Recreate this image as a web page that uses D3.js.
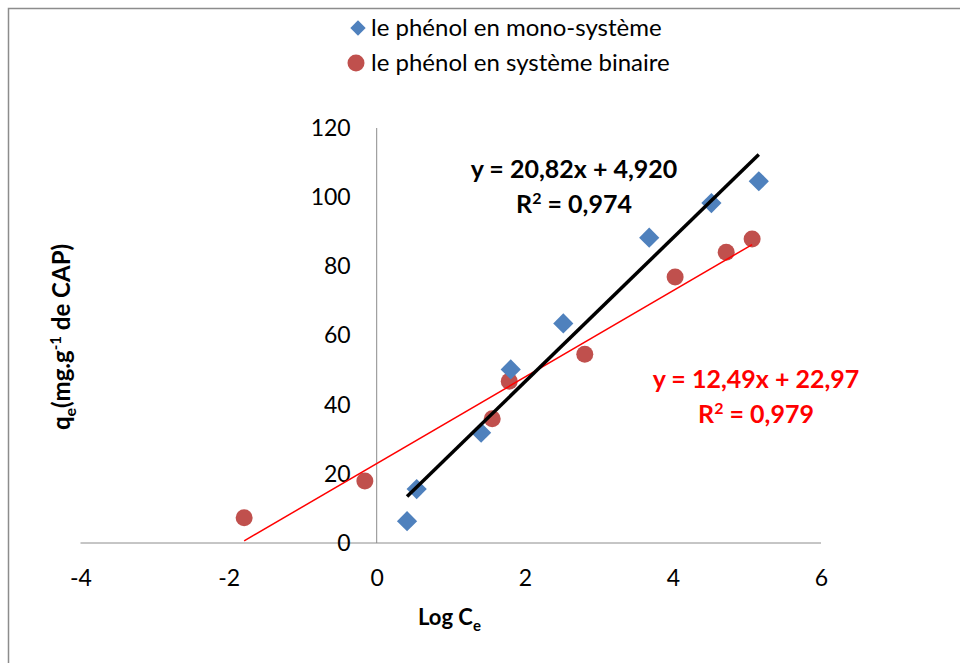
<!DOCTYPE html>
<html>
<head>
<meta charset="utf-8">
<script src="https://cdn.jsdelivr.net/npm/d3@7"></script>
<style>
  body { margin: 0; background: #fff; }
  svg { font-family: Lato, "Open Sans", sans-serif; }
  .axis path, .axis line { stroke: #8c8c8c; }
  .axis text { font-size: 23px; fill: #000; }
</style>
</head>
<body>
<svg width="960" height="663"></svg>
<script>
// mono-système (bleu)
var monoX = [0.41, 0.54, 1.41, 1.81, 2.52, 3.68, 4.52, 5.16];
var monoY = [6.3, 15.6, 31.9, 50.2, 63.5, 88.3, 98.3, 104.6];
// système binaire (rouge)
var binX = [-1.79, -0.16, 1.56, 1.79, 2.81, 4.03, 4.72, 5.07];
var binY = [7.3, 17.9, 35.9, 46.8, 54.6, 76.9, 84.1, 87.9];

var xTicks = [-4, -2, 0, 2, 4, 6];
var yTicks = [0, 20, 40, 60, 80, 100, 120];

var monoFit = {slope: 20.82, intercept: 4.920, eq: "y = 20,82x + 4,920", r2: "0,974"};
var binFit = {slope: 12.49, intercept: 22.97, eq: "y = 12,49x + 22,97", r2: "0,979"};

var svg = d3.select("svg");

// cadre du graphique
svg.append("rect")
    .attr("x", 8.5).attr("y", 8.5)
    .attr("width", 1000).attr("height", 1000)
    .attr("fill", "none")
    .attr("stroke", "#8c8c8c")
    .attr("stroke-width", 1.5);

var x = d3.scaleLinear().domain([-4, 6]).range([80.5, 821]);
var y = d3.scaleLinear().domain([0, 120]).range([543, 128]);

var xAxis = d3.axisBottom(x).tickValues(xTicks).tickSize(0).tickPadding(27)
    .tickFormat(function(d) { return d; });
var yAxis = d3.axisLeft(y).tickValues(yTicks).tickSize(0).tickPadding(26);

svg.append("g")
    .attr("class", "axis axis--x")
    .attr("transform", "translate(0," + y(0) + ")")
    .call(xAxis)
    .attr("font-family", null)
    .call(function(g) { g.select(".domain").attr("d", "M" + x(-4) + ",0H" + x(6)); });

svg.append("g")
    .attr("class", "axis axis--y")
    .attr("transform", "translate(" + x(0) + ",0)")
    .call(yAxis)
    .attr("font-family", null)
    .call(function(g) { g.select(".domain").attr("d", "M0," + y(120) + "V" + y(0)); });

// lignes de tendance
function fitLine(xs, fit, color, w) {
  var ext = d3.extent(xs);
  svg.append("line")
      .attr("x1", x(ext[0])).attr("y1", y(fit.slope * ext[0] + fit.intercept))
      .attr("x2", x(ext[1])).attr("y2", y(fit.slope * ext[1] + fit.intercept))
      .attr("stroke", color)
      .attr("stroke-width", w);
}

var diamond = d3.symbol().type(d3.symbolDiamond2).size(260);

svg.append("g").selectAll("circle")
    .data(d3.range(binX.length))
    .enter().append("circle")
    .attr("cx", function(i) { return x(binX[i]); })
    .attr("cy", function(i) { return y(binY[i]); })
    .attr("r", 8.5)
    .attr("fill", "#c0504d");

svg.append("g").selectAll("path")
    .data(d3.range(monoX.length))
    .enter().append("path")
    .attr("d", diamond)
    .attr("transform", function(i) { return "translate(" + x(monoX[i]) + "," + y(monoY[i]) + ")"; })
    .attr("fill", "#4f81bd");

fitLine(binX, binFit, "#ff0000", 1.5);
fitLine(monoX, monoFit, "#000", 3.5);

// équations
function eqLabel(fit, cx, by, color) {
  var t = svg.append("text")
      .attr("text-anchor", "middle")
      .attr("font-size", "25px")
      .attr("font-weight", "bold")
      .attr("fill", color);
  t.append("tspan").attr("x", cx).attr("y", by).text(fit.eq);
  t.append("tspan").attr("x", cx).attr("y", by + 35).text("R");
  t.append("tspan").attr("dy", -9).attr("font-size", "16px").text("2");
  t.append("tspan").attr("dy", 9).text(" = " + fit.r2);
}
eqLabel(monoFit, 574, 178, "#000");
eqLabel(binFit, 756, 388, "#ff0000");

// légende
var legend = svg.append("g").attr("font-size", "24px");
legend.append("path")
    .attr("d", d3.symbol().type(d3.symbolDiamond2).size(150))
    .attr("transform", "translate(358,28)")
    .attr("fill", "#4f81bd");
legend.append("text").attr("x", 371).attr("y", 36).text("le phénol en mono-système");
legend.append("circle").attr("cx", 356).attr("cy", 63).attr("r", 8.5).attr("fill", "#c0504d");
legend.append("text").attr("x", 371).attr("y", 71).text("le phénol en système binaire");

// titres des axes
var xt = svg.append("text")
    .attr("x", 418).attr("y", 625)
    .attr("font-size", "22px").attr("font-weight", "bold");
xt.append("tspan").text("Log C");
xt.append("tspan").attr("dy", 6).attr("font-size", "15px").text("e");

var yt = svg.append("text")
    .attr("transform", "translate(70,337) rotate(-90)")
    .attr("text-anchor", "middle")
    .attr("font-size", "24px").attr("font-weight", "bold");
yt.append("tspan").text("q");
yt.append("tspan").attr("dy", 6).attr("font-size", "16px").text("e");
yt.append("tspan").attr("dy", -6).text("(mg.g");
yt.append("tspan").attr("dy", -9).attr("font-size", "15px").text("-1");
yt.append("tspan").attr("dy", 9).text(" de CAP)");
</script>
</body>
</html>
